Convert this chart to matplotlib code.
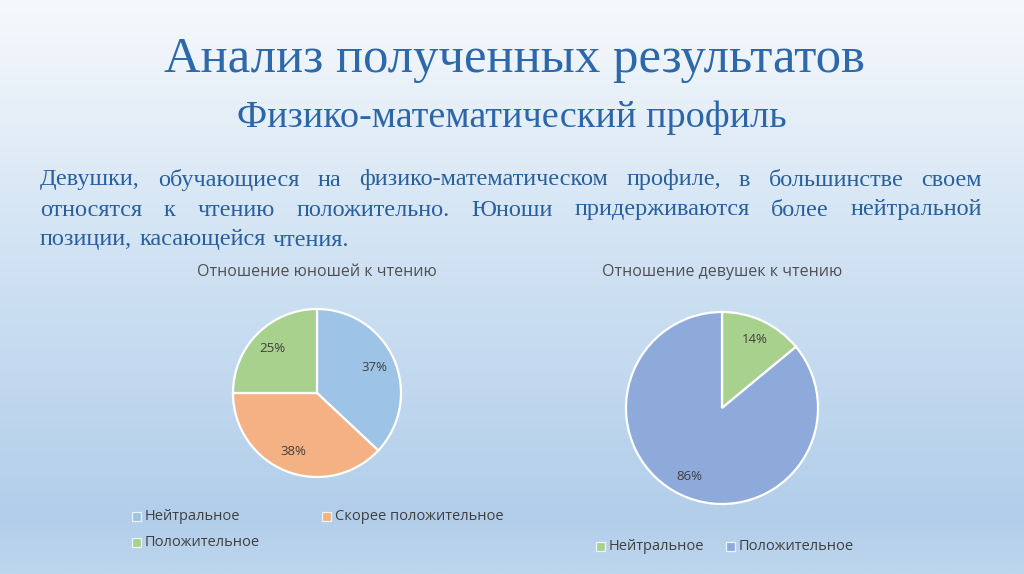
import matplotlib
matplotlib.use("Agg")
import matplotlib.pyplot as plt
import numpy as np
from matplotlib.patches import Rectangle

# ---- data ----
boys_labels = ["Нейтральное", "Скорее положительное", "Положительное"]
boys_values = [37, 38, 25]
boys_colors = ["#9dc3e6", "#f4b183", "#a9d18e"]

girls_labels = ["Нейтральное", "Положительное"]
girls_values = [14, 86]
girls_colors = ["#a9d18e", "#8eaadb"]

title = "Анализ полученных результатов"
subtitle = "Физико-математический профиль"
para_lines = [
    "Девушки, обучающиеся на физико-математическом профиле, в большинстве своем",
    "относятся к чтению положительно. Юноши придерживаются более нейтральной",
    "позиции, касающейся чтения.",
]
boys_title = "Отношение юношей к чтению"
girls_title = "Отношение девушек к чтению"

W, H = 1024, 574
fig = plt.figure(figsize=(W / 100, H / 100), dpi=100)

# background gradient
bg = fig.add_axes([0, 0, 1, 1])
bg.set_axis_off()
stops = np.array([0.0, 0.45, 0.9, 1.0])
cols = np.array([[246, 249, 252], [208, 226, 243], [178, 206, 234], [190, 214, 238]]) / 255
t = np.linspace(0, 1, 400)
grad = np.stack([np.interp(t, stops, cols[:, k]) for k in range(3)], axis=1)
bg.imshow(grad[:, None, :], aspect="auto", extent=[0, 1, 0, 1], zorder=-10)
bg.set_xlim(0, 1)
bg.set_ylim(0, 1)

def fx(px):
    return px / W

def fy(py):
    return 1 - py / H

serif = "Liberation Serif"
sans = "Open Sans"
blue = "#2d68ab"

fig.text(fx(514), fy(60), title, ha="center", va="center", family=serif,
         fontsize=36.5, color=blue)
fig.text(fx(512), fy(118), subtitle, ha="center", va="center", family=serif,
         fontsize=27.5, color="#2c66a8")

# justified paragraph
renderer = fig.canvas.get_renderer()
left_px, right_px = 40, 982
ys = [180, 210, 240]
pcol = "#28609f"
psize = 17.5
for i, line in enumerate(para_lines):
    words = line.split(" ")
    txts = [fig.text(0, fy(ys[i]), w, ha="left", va="center", family=serif,
                     fontsize=psize, color=pcol) for w in words]
    widths = [tt.get_window_extent(renderer).width for tt in txts]
    if i < len(para_lines) - 1:
        gap = (right_px - left_px - sum(widths)) / (len(words) - 1)
    else:
        gap = 0.3 * psize * 100 / 72
    x = left_px
    for tt, w in zip(txts, widths):
        tt.set_x(fx(x))
        x += w + gap

def pie_axes(cx, cy, r):
    m = 1.05
    ax = fig.add_axes([fx(cx - r * m), fy(cy + r * m), 2 * r * m / W, 2 * r * m / H])
    return ax, m

def finish(ax, m):
    ax.set_xlim(-m, m)
    ax.set_ylim(-m, m)
    ax.set_axis_off()

ax1, m1 = pie_axes(317, 393, 84)
ax1.pie(boys_values, colors=boys_colors, startangle=90, counterclock=False,
        autopct="%.0f%%", pctdistance=0.75, radius=1,
        wedgeprops=dict(edgecolor="white", linewidth=1.6),
        textprops=dict(family=sans, fontsize=9.5, color="#404040"))
finish(ax1, m1)

ax2, m2 = pie_axes(722, 408, 96)
ax2.pie(girls_values, colors=girls_colors, startangle=90, counterclock=False,
        autopct="%.0f%%", pctdistance=0.79, radius=1,
        wedgeprops=dict(edgecolor="white", linewidth=1.6),
        textprops=dict(family=sans, fontsize=9.5, color="#404040"))
finish(ax2, m2)

fig.text(fx(317), fy(272), boys_title, ha="center", va="center", family=sans,
         fontsize=11.5, color="#505050")
fig.text(fx(722), fy(272), girls_title, ha="center", va="center", family=sans,
         fontsize=11.5, color="#505050")

def legend_item(x, y, label, color):
    s = 9
    fig.patches.append(Rectangle((fx(x), fy(y + s / 2)), s / W, s / H, transform=fig.transFigure,
                                 facecolor=color, edgecolor="#eef3f8", linewidth=0.9, figure=fig))
    fig.text(fx(x + s + 4), fy(y), label, ha="left", va="center", family=sans,
             fontsize=10.5, color="#404040")

left_pos = [(132, 516), (322, 516), (132, 542)]
for (x, y), lab, col in zip(left_pos, boys_labels, boys_colors):
    legend_item(x, y, lab, col)
right_pos = [(596, 546), (726, 546)]
for (x, y), lab, col in zip(right_pos, girls_labels, girls_colors):
    legend_item(x, y, lab, col)

fig.savefig("out.png", dpi=100)
